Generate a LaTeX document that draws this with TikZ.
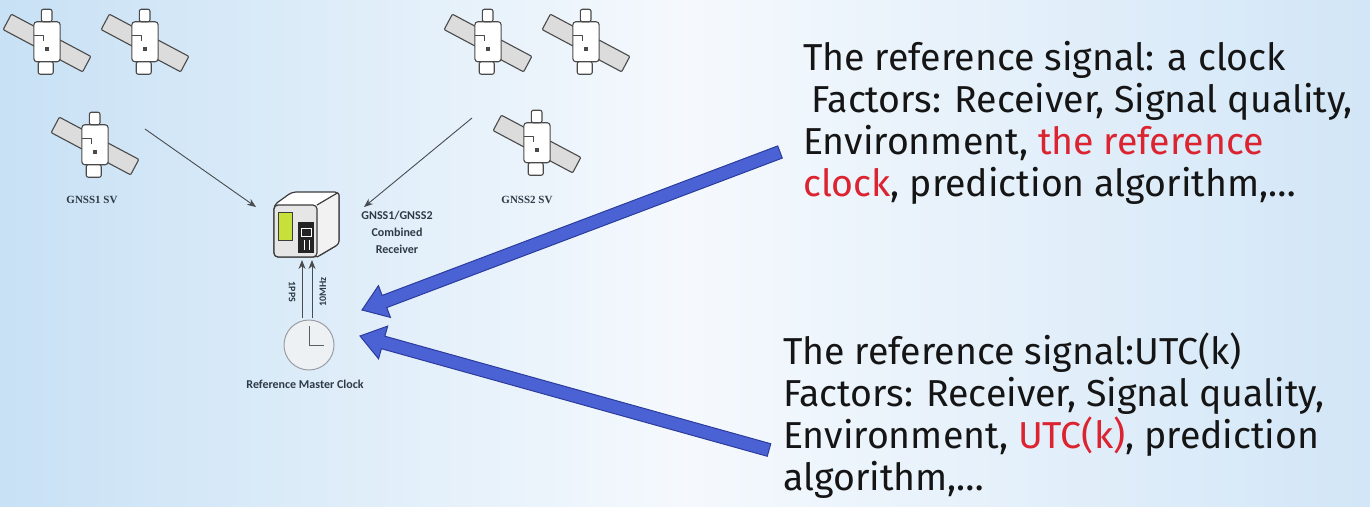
\documentclass[tikz,border=0pt]{standalone}
\usepackage{fontspec}
\setmainfont{Fira Sans}
\newfontfamily\lblfont{Carlito}
\newfontfamily\svfont{Liberation Serif}
\usetikzlibrary{calc,arrows.meta}
\definecolor{bgL}{HTML}{C8E1F5}
\definecolor{bgM}{HTML}{F5F9FD}
\definecolor{bgR}{HTML}{D2E6F7}
\definecolor{panelgray}{HTML}{DCDCDC}
\definecolor{satgray}{HTML}{4A4A4A}
\definecolor{boxgray}{HTML}{3C3C3C}
\definecolor{frontgray}{HTML}{E6E6E6}
\definecolor{sidegray}{HTML}{F2F2F2}
\definecolor{ygreen}{HTML}{C8E03C}
\definecolor{clockfill}{HTML}{EEF1F4}
\definecolor{clockline}{HTML}{9A9EA4}
\definecolor{arrowblue}{HTML}{4A62D4}
\definecolor{arrowedge}{HTML}{2C3C9C}
\definecolor{redt}{HTML}{DC2330}
\definecolor{textc}{HTML}{151515}
\definecolor{lblc}{HTML}{2E3A46}
\definecolor{thinc}{HTML}{484C50}
\newcommand\fatarrow[2]{%
  \path ($(#2)!24pt!(#1)$) coordinate (fH);
  \filldraw[bluearrow]
    ($(#1)!6.5pt!90:(#2)$) -- ($(fH)!6.5pt!90:(#2)$) -- ($(fH)!17pt!90:(#2)$)
    -- (#2) -- ($(fH)!17pt!-90:(#2)$) -- ($(fH)!6.5pt!-90:(#2)$)
    -- ($(#1)!6.5pt!-90:(#2)$) -- cycle;}
\tikzset{
  satline/.style={draw=satgray, line width=1.1pt, line join=round},
  sat/.pic={
    \draw[satline, fill=panelgray, rotate=-28, rounded corners=1pt] (-36,-7) rectangle (36,7);
    \draw[satline, fill=white, rounded corners=3pt] (-10.5,-17) rectangle (10.5,15);
    \draw[satline, fill=white, rounded corners=2pt] (-4.5,-27) rectangle (4,-17);
    \draw[satline, fill=white, rounded corners=2pt] (-7,15) rectangle (5,25);
    \draw[satline] (-10.5,-6) -- (-3,-6) -- (-3,-2);
    \fill[satgray] (-2,3) rectangle (1.5,6);
  },
  boxline/.style={draw=boxgray, line width=1.2pt, line join=round},
  lbl/.style={font=\lblfont\bfseries\fontsize{12}{17}\selectfont, text=lblc, align=center, inner sep=0},
  svlbl/.style={font=\svfont\bfseries\fontsize{11}{13}\selectfont, text=lblc, inner sep=0},
  rotlbl/.style={font=\lblfont\bfseries\fontsize{10}{12}\selectfont, text=lblc, inner sep=0},
  thinarrow/.style={draw=thinc, line width=0.9pt, -{Stealth[length=9pt,width=7pt]}},
  bluearrow/.style={fill=arrowblue, draw=arrowedge, line width=1pt, line join=miter},
  txt/.style={anchor=north west, align=left, inner sep=0, text=textc, font=\fontsize{37.5}{42}\selectfont},
}
\begin{document}
\begin{tikzpicture}[x=1pt,y=-1pt]
\shade[left color=bgL, right color=bgR, middle color=bgM] (0,0) rectangle (1370,506);
\useasboundingbox (0,0) rectangle (1370,506);
% satellites
\pic[scale=1.25] (satA) at (47,43) {sat};
\pic[scale=1.25] (satB) at (145,43) {sat};
\pic[scale=1.25] (satC) at (95,146) {sat};
\pic[scale=1.25] (satD) at (488,43) {sat};
\pic[scale=1.25] (satE) at (586,43) {sat};
\pic[scale=1.25] (satF) at (537,144) {sat};
\node[svlbl] (sv1) at (92,200) {GNSS1 SV};
\node[svlbl] (sv2) at (527,200) {GNSS2 SV};
% receiver
\node[minimum width=66pt, minimum height=65pt, inner sep=0] (rx) at (306,225) {};
\draw[boxline, fill=white, rounded corners=4pt] (274,205) -- (292,192) -- (339,192) -- (339,244) -- (317,257) -- (274,257) -- cycle;
\draw[boxline, fill=sidegray, rounded corners=3pt] (317,205) -- (339,192) -- (339,244) -- (317,257);
\draw[boxline, fill=frontgray, rounded corners=4pt] (274,205) rectangle (317,257);
\draw[draw=boxgray, line width=0.8pt, fill=ygreen] (278,212) rectangle (292,240);
\fill[boxgray!60!black] (298,222) rectangle (314,253);
\draw[white, line width=0.8pt] (301,228) rectangle (311,236) (304,240) -- (304,250) (309,240) -- (309,250);
\node[lbl] (rxlbl) at (397,232) {GNSS1/GNSS2\\Combined\\Receiver};
% guide arrows
\coordinate (g1s) at (145,129);
\coordinate (g1e) at (256,207);
\coordinate (g2s) at (472,118);
\coordinate (g2e) at (364,207);
\draw[thinarrow] (g1s) -- (g1e);
\draw[thinarrow] (g2s) -- (g2e);
% clock
\node[circle, draw=clockline, fill=clockfill, line width=1pt, minimum size=50pt, inner sep=0] (clk) at (309,345) {};
\draw[clockline!60!black, line width=0.9pt] (clk.center) -- ++(0,-19);
\draw[clockline!60!black, line width=0.9pt] (clk.center) -- ++(15,0);
\node[lbl] (clklbl) at (305,384) {Reference Master Clock};
% 1PPS / 10MHz
\coordinate (p1s) at (302,318);
\coordinate (p1e) at (302,260);
\coordinate (p2s) at (312,318);
\coordinate (p2e) at (312,260);
\draw[thinarrow] (p1s) -- (p1e);
\draw[thinarrow] (p2s) -- (p2e);
\node[rotlbl, rotate=-90] (pps) at (292,292) {1PPS};
\node[rotlbl, rotate=90] (mhz) at (323,292) {10MHz};
% blue arrows
\coordinate (uat) at (780,152);
\coordinate (uah) at (362,310);
\coordinate (lat) at (769,450);
\coordinate (lah) at (360,336);
\fatarrow{uat}{uah}
\fatarrow{lat}{lah}
% texts
\node[txt] (t1) at (803,41) {The reference signal: a clock\\\hspace*{0.22em}Factors: Receiver, Signal quality,\\Environment, \textcolor{redt}{the reference}\\\textcolor{redt}{clock}, prediction algorithm,…};
\node[txt] (t2) at (783,333) {The reference signal:UTC(k)\\Factors: Receiver, Signal quality,\\Environment, \textcolor{redt}{UTC(k)}, prediction\\algorithm,…};
\end{tikzpicture}
\end{document}
